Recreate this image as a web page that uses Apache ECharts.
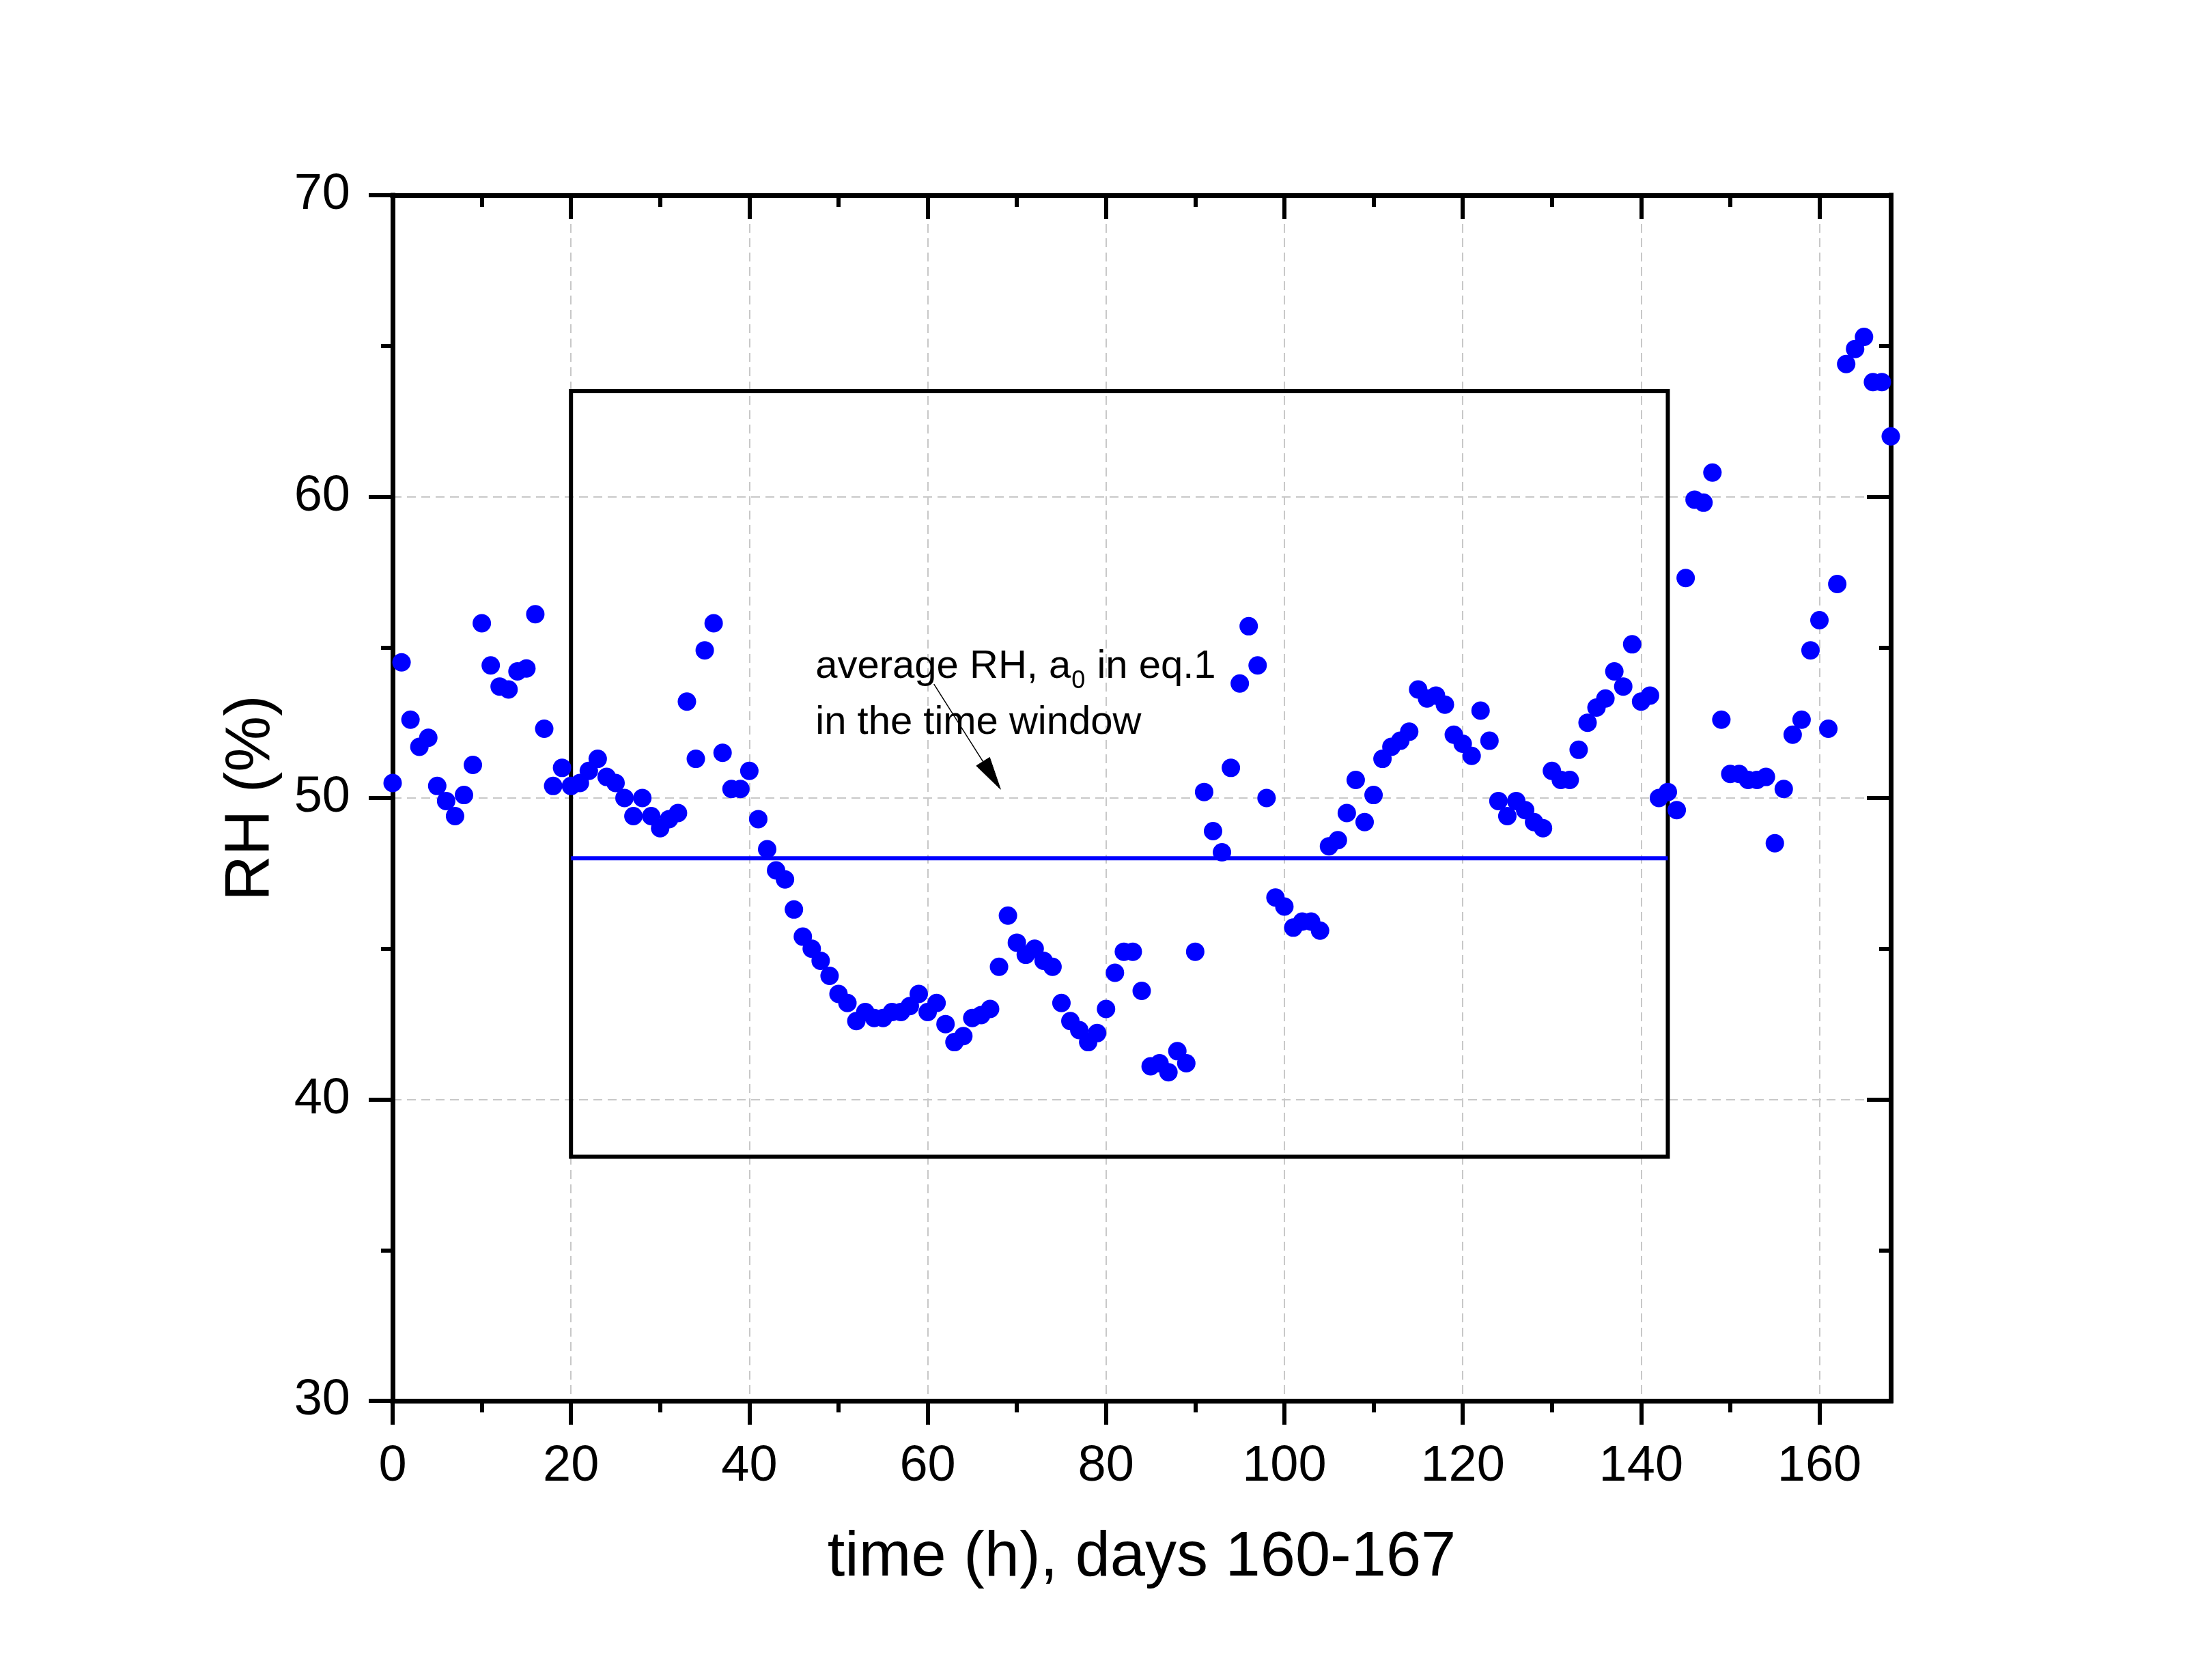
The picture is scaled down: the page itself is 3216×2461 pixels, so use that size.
<!DOCTYPE html>
<html>
<head>
<meta charset="utf-8">
<script src="https://cdn.jsdelivr.net/npm/echarts@6/dist/echarts.min.js"></script>
<style>
html,body{margin:0;padding:0;background:#ffffff;}
#c{width:3216px;height:2461px;}
</style>
</head>
<body>
<div id="c"></div>
<script>
// ---------------- data ----------------
const hours = [
  0,1,2,3,4,5,6,7,8,9,10,11,12,13,14,15,16,17,18,19,
  20,21,22,23,24,25,26,27,28,29,30,31,32,33,34,35,36,37,38,39,
  40,41,42,43,44,45,46,47,48,49,50,51,52,53,54,55,56,57,58,59,
  60,61,62,63,64,65,66,67,68,69,70,71,72,73,74,75,76,77,78,79,
  80,81,82,83,84,85,86,87,88,89,90,91,92,93,94,95,96,97,98,99,
  100,101,102,103,104,105,106,107,108,109,110,111,112,113,114,115,116,117,118,119,
  120,121,122,123,124,125,126,127,128,129,130,131,132,133,134,135,136,137,138,139,
  140,141,142,143,144,145,146,147,148,149,150,151,152,153,154,155,156,157,158,159,
  160,161,162,163,164,165,166,167,168
];
const rh = [
  50.5, 54.5, 52.6, 51.7, 52.0, 50.4, 49.9, 49.4, 50.1, 51.1,
  55.8, 54.4, 53.7, 53.6, 54.2, 54.3, 56.1, 52.3, 50.4, 51.0,
  50.4, 50.5, 50.9, 51.3, 50.7, 50.5, 50.0, 49.4, 50.0, 49.4,
  49.0, 49.3, 49.5, 53.2, 51.3, 54.9, 55.8, 51.5, 50.3, 50.3,
  50.9, 49.3, 48.3, 47.6, 47.3, 46.3, 45.4, 45.0, 44.6, 44.1,
  43.5, 43.2, 42.6, 42.9, 42.7, 42.7, 42.9, 42.9, 43.1, 43.5,
  42.9, 43.2, 42.5, 41.9, 42.1, 42.7, 42.8, 43.0, 44.4, 46.1,
  45.2, 44.8, 45.0, 44.6, 44.4, 43.2, 42.6, 42.3, 41.9, 42.2,
  43.0, 44.2, 44.9, 44.9, 43.6, 41.1, 41.2, 40.9, 41.6, 41.2,
  44.9, 50.2, 48.9, 48.2, 51.0, 53.8, 55.7, 54.4, 50.0, 46.7,
  46.4, 45.7, 45.9, 45.9, 45.6, 48.4, 48.6, 49.5, 50.6, 49.2,
  50.1, 51.3, 51.7, 51.9, 52.2, 53.6, 53.3, 53.4, 53.1, 52.1,
  51.8, 51.4, 52.9, 51.9, 49.9, 49.4, 49.9, 49.6, 49.2, 49.0,
  50.9, 50.6, 50.6, 51.6, 52.5, 53.0, 53.3, 54.2, 53.7, 55.1,
  53.2, 53.4, 50.0, 50.2, 49.6, 57.3, 59.9, 59.8, 60.8, 52.6,
  50.8, 50.8, 50.6, 50.6, 50.7, 48.5, 50.3, 52.1, 52.6, 54.9,
  55.9, 52.3, 57.1, 64.4, 64.9, 65.3, 63.8, 63.8, 62.0
];

// time window and its average
const windowX = [20, 143];
const windowY = [38.1, 63.5];
const averageRH = 48.0;

// tick values
const xMajorTicks = [0, 20, 40, 60, 80, 100, 120, 140, 160];
const xMinorTicks = [10, 30, 50, 70, 90, 110, 130, 150];

// annotation (data coordinates)
const noteLine1 = ['average RH, a', '0', ' in eq.1'];
const noteLine2 = 'in the time window';
const noteAnchor = [47.42, 53.9];
const noteLine2Y = 52.03;
const noteSubY = 53.58;
const arrowFrom = [60.70, 53.78];
const arrowTo = [68.17, 50.29];

// ---------------- chart ----------------
const FONT = '"Liberation Sans", Arial, "Helvetica Neue", sans-serif';
const BLACK = '#000000';
const BLUE = '#0000ff';
const GRID = '#c8c8c8';

const chart = echarts.init(document.getElementById('c'), null, {renderer: 'canvas'});

const tickStyle = {color: BLACK, width: 6};
const axisLine = {show: true, onZero: false, lineStyle: {color: BLACK, width: 7, cap: 'square'}};
const gridLine = {show: true, lineStyle: {color: GRID, width: 2, type: [13, 8]}};

const scatterData = hours.map((h, i) => [h, rh[i]]);
const boxData = [
  [windowX[0], windowY[0]], [windowX[1], windowY[0]],
  [windowX[1], windowY[1]], [windowX[0], windowY[1]], [windowX[0], windowY[0]]
];
const avgData = [[windowX[0], averageRH], [windowX[1], averageRH]];

const option = {
  backgroundColor: '#ffffff',
  animation: false,
  textStyle: {fontFamily: FONT},
  grid: {left: 575, top: 286, right: 447, bottom: 409, containLabel: false},
  xAxis: [
    {
      type: 'value', position: 'bottom', min: 0, max: 168, interval: 20,
      axisLine: axisLine,
      axisTick: {show: true, inside: false, length: 35, customValues: xMajorTicks, lineStyle: tickStyle},
      minorTick: {show: false},
      axisLabel: {show: true, customValues: xMajorTicks, fontSize: 74, color: BLACK, fontFamily: FONT, margin: 60},
      splitLine: gridLine,
      name: 'time (h), days 160-167', nameLocation: 'middle', nameGap: 185,
      nameTextStyle: {fontSize: 92, color: BLACK, fontFamily: FONT}
    },
    {
      type: 'value', position: 'bottom', min: 0, max: 168, interval: 20,
      axisLine: {show: false},
      axisTick: {show: true, inside: false, length: 17, customValues: xMinorTicks, lineStyle: tickStyle},
      axisLabel: {show: false}, splitLine: {show: false}
    },
    {
      type: 'value', position: 'top', min: 0, max: 168, interval: 20,
      axisLine: axisLine,
      axisTick: {show: true, inside: true, length: 35, customValues: xMajorTicks, lineStyle: tickStyle},
      axisLabel: {show: false}, splitLine: {show: false}
    },
    {
      type: 'value', position: 'top', min: 0, max: 168, interval: 20,
      axisLine: {show: false},
      axisTick: {show: true, inside: true, length: 17, customValues: xMinorTicks, lineStyle: tickStyle},
      axisLabel: {show: false}, splitLine: {show: false}
    }
  ],
  yAxis: [
    {
      type: 'value', position: 'left', min: 30, max: 70, interval: 10,
      axisLine: axisLine,
      axisTick: {show: true, inside: false, length: 35, lineStyle: tickStyle},
      minorTick: {show: true, splitNumber: 2, length: 17, lineStyle: tickStyle},
      axisLabel: {show: true, fontSize: 74, color: BLACK, fontFamily: FONT, margin: 62},
      splitLine: gridLine,
      name: 'RH (%)', nameLocation: 'middle', nameGap: 160, nameRotate: 90,
      nameTextStyle: {fontSize: 92, color: BLACK, fontFamily: FONT}
    },
    {
      type: 'value', position: 'right', min: 30, max: 70, interval: 10,
      axisLine: axisLine,
      axisTick: {show: true, inside: true, length: 35, lineStyle: tickStyle},
      minorTick: {show: true, splitNumber: 2, length: 17, lineStyle: tickStyle},
      axisLabel: {show: false}, splitLine: {show: false}
    }
  ],
  series: [
    {
      name: 'window', type: 'line', xAxisIndex: 0, yAxisIndex: 0,
      data: boxData, symbol: 'none', silent: true, z: 3,
      lineStyle: {color: BLACK, width: 6, join: 'miter', cap: 'square'}
    },
    {
      name: 'average', type: 'line', xAxisIndex: 0, yAxisIndex: 0,
      data: avgData, symbol: 'none', silent: true, z: 3,
      lineStyle: {color: BLUE, width: 6}
    },
    {
      name: 'RH', type: 'scatter', xAxisIndex: 0, yAxisIndex: 0,
      data: scatterData, symbol: 'circle', symbolSize: 27, z: 5,
      itemStyle: {color: BLUE, opacity: 1}
    }
  ]
};
chart.setOption(option);

// ---------------- annotation ----------------
(function () {
  const toPx = p => chart.convertToPixel({xAxisIndex: 0, yAxisIndex: 0}, p);
  const ctx = document.createElement('canvas').getContext('2d');
  const mainSize = 58, subSize = 36;
  ctx.font = mainSize + 'px ' + FONT;
  const w1 = ctx.measureText(noteLine1[0]).width;
  ctx.font = subSize + 'px ' + FONT;
  const w2 = ctx.measureText(noteLine1[1]).width;
  const mid = 0.3465; // alphabetic baseline offset from middle, in em

  const a = toPx(noteAnchor);
  const b2 = toPx([noteAnchor[0], noteLine2Y]);
  const bs = toPx([noteAnchor[0], noteSubY]);
  const txt = (x, yBase, s, size) => ({
    type: 'text', x: x, y: yBase - mid * size, silent: true, z: 10,
    style: {text: s, fontSize: size, fontFamily: FONT, fill: BLACK, align: 'left', verticalAlign: 'middle'}
  });

  const p0 = toPx(arrowFrom), p1 = toPx(arrowTo);
  const dx = p1[0] - p0[0], dy = p1[1] - p0[1];
  const len = Math.sqrt(dx * dx + dy * dy);
  const ux = dx / len, uy = dy / len, nx = -uy, ny = ux;
  const headL = 48, headW = 11.5;
  const bx = p1[0] - ux * headL, by = p1[1] - uy * headL;

  chart.setOption({
    graphic: [
      txt(a[0], a[1], noteLine1[0], mainSize),
      txt(a[0] + w1 + 1, bs[1], noteLine1[1], subSize),
      txt(a[0] + w1 + w2 + 2, a[1], noteLine1[2], mainSize),
      txt(a[0], b2[1], noteLine2, mainSize),
      {
        type: 'line', silent: true, z: 10,
        shape: {x1: p0[0], y1: p0[1], x2: bx, y2: by},
        style: {stroke: BLACK, lineWidth: 1.5}
      },
      {
        type: 'polygon', silent: true, z: 10,
        shape: {points: [[p1[0], p1[1]], [bx + nx * headW, by + ny * headW], [bx - nx * headW, by - ny * headW]]},
        style: {fill: BLACK, stroke: BLACK, lineWidth: 1}
      }
    ]
  });
})();
</script>
</body>
</html>
